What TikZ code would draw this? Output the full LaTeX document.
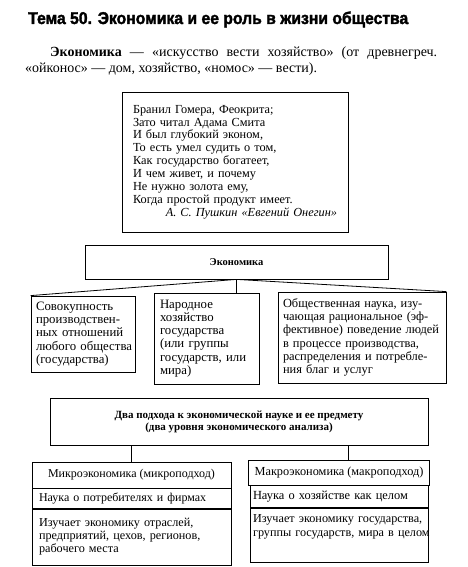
\documentclass[tikz,border=0pt]{standalone}
\usepackage{fontspec}
\setmainfont{Liberation Serif}
\newfontfamily\headfont{Liberation Sans}[BoldFeatures={FakeBold=2}]
\usetikzlibrary{positioning}

\begin{document}
\begin{tikzpicture}[x=1pt,y=-1pt,
  every node/.style={font=\fontsize{12.8}{13.3}\selectfont},
  blk/.style={draw,line width=0.8pt,inner xsep=6pt,inner ysep=3pt,align=left},
  lnk/.style={line width=0.8pt}
]
\useasboundingbox (0,0) rectangle (468,567);
% heading and definition
\node[anchor=base west,inner sep=0pt] (title) at (28,24)
  {\resizebox{380pt}{12.5pt}{\headfont\bfseries Тема 50. Экономика и ее роль в жизни общества}};
\node[anchor=base west,text width=412pt,align=justify,inner sep=0pt,
  font=\fontsize{14}{16}\selectfont] (defn) at (25,56.5)
  {\hspace*{25pt}\textbf{Экономика} — «искусство вести хозяйство» (от древнегреч.\linebreak
   «ойконос» — дом, хозяйство, «номос» — вести).};
% poem
\node[blk,minimum width=226pt,minimum height=140pt,text width=204pt,inner xsep=11pt,
  font=\fontsize{12.3}{12.9}\selectfont] (poem) at (235,162)
  {Бранил Гомера, Феокрита;\\
   Зато читал Адама Смита\\
   И был глубокий эконом,\\
   То есть умел судить о том,\\
   Как государство богатеет,\\
   И чем живет, и почему\\
   Не нужно золота ему,\\
   Когда простой продукт имеет.\\
   \makebox[204pt][r]{\itshape А. С. Пушкин «Евгений Онегин»}};
% economics and its three meanings
\node[blk,minimum width=303pt,minimum height=34pt,align=center,
  font=\fontsize{10.5}{12}\selectfont\bfseries] (econ) at (236.5,262) {Экономика};
\node[blk,minimum width=104pt,minimum height=76pt,text width=94pt,inner xsep=5pt] (rel) at (83,334)
  {Совокупность\\ производствен-\\ ных отношений\\ \mbox{любого общества}\\ (государства)};
\node[blk,minimum width=105pt,minimum height=91pt,text width=93pt] (natl) at (206.5,338.5)
  {Народное\\ хозяйство\\ государства\\ (или группы\\ \mbox{государств, или}\\ мира)};
\node[blk,minimum width=168pt,minimum height=91pt,text width=158pt,inner xsep=5pt,
  font=\fontsize{12.4}{13.3}\selectfont] (sci) at (362,337.5)
  {\mbox{Общественная наука, изу-}\\ \mbox{чающая рациональное (эф-}\\ \mbox{фективное) поведение людей}\\ \mbox{в процессе производства,}\\ \mbox{распределения и потребле-}\\ ния благ и услуг};
\draw[lnk] (econ.south) -- (rel.north west);
\draw[lnk] (econ.south) -- (sci.north east);
\draw[lnk] (econ.south) -- (econ.south |- natl.north);
% two approaches
\node[blk,minimum width=378pt,minimum height=47pt,align=center,
  font=\fontsize{11}{12}\selectfont\bfseries] (appr) at (239,421.5)
  {Два подхода к экономической науке и ее предмету\\ (два уровня экономического анализа)};
\node[blk,minimum width=199pt,minimum height=26pt,align=center,font=\fontsize{12}{13}\selectfont] (microhead) at (131.5,475)
  {Микроэкономика (микроподход)};
\node[blk,minimum width=199pt,minimum height=20pt,text width=185pt,inner xsep=7pt,anchor=north,
  font=\fontsize{12}{13}\selectfont] (microsub) at (microhead.south)
  {Наука о потребителях и фирмах};
\node[blk,minimum width=199pt,text width=185pt,inner xsep=7pt,inner ysep=9pt,text depth=29pt,anchor=north,
  font=\fontsize{12.2}{12.7}\selectfont] (microtxt) at (microsub.south)
  {Изучает экономику отраслей,\\ \mbox{предприятий, цехов, регионов,}\\ рабочего места};
\node[blk,minimum width=178pt,minimum height=25pt,align=center,font=\fontsize{12.3}{13}\selectfont] (macrohead) at (339,472.5)
  {Макроэкономика (макроподход)};
\node[blk,minimum width=178pt,minimum height=22pt,text width=172pt,inner xsep=3pt,anchor=north,
  font=\fontsize{12.4}{13}\selectfont] (macrosub) at (macrohead.south)
  {Наука о хозяйстве как целом};
\node[blk,minimum width=178pt,text width=172pt,inner xsep=3pt,inner ysep=6pt,text depth=34pt,anchor=north,
  font=\fontsize{12.2}{14}\selectfont] (macrotxt) at (macrosub.south)
  {\mbox{Изучает экономику государства,}\\ \mbox{группы государств, мира в целом}};
\draw[lnk] (microhead.north) -- (microhead.north |- appr.south);
\draw[lnk] ([xshift=9pt]macrohead.north) -- ([xshift=9pt]macrohead.north |- appr.south);
\end{tikzpicture}
\end{document}
